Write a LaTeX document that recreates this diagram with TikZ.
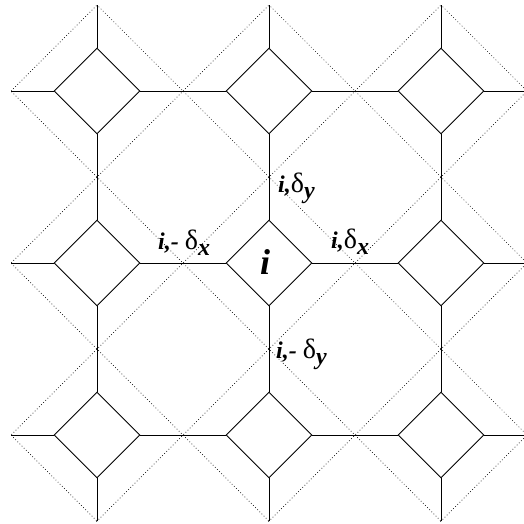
\documentclass[tikz,border=0pt]{standalone}
\usepackage{fontspec}
\setmainfont{Liberation Serif}
\usetikzlibrary{shapes.geometric}
\newcommand\dl{{\normalfont\fontsize{28}{28}\selectfont δ}}
\newcommand\subl[1]{\raisebox{-6pt}{#1}}
\begin{document}
\begin{tikzpicture}[x=1pt,y=-1pt,
  cell/.style={draw, diamond, minimum size=86pt, inner sep=0pt, line width=0.9pt},
  edge/.style={line width=0.9pt},
  lattice/.style={line width=0.7pt, dash pattern=on 0.7pt off 2.3pt},
  lab/.style={inner sep=0pt, anchor=base west, font=\fontsize{24}{24}\selectfont\bfseries\itshape}]
\useasboundingbox (0,0) rectangle (524,523);
\begin{scope}
  \clip (11,5) rectangle (524,521);
  \foreach \c in {102,274,446,618,790,962}
    \draw[lattice] ({\c-600},600) -- ({\c+600},-600);
  \foreach \c in {-424,-252,-80,92,264,436}
    \draw[lattice] ({\c-600},-600) -- ({\c+600},600);
\end{scope}
\foreach \i in {0,1,2}
  \foreach \j in {0,1,2}
    \node[cell] (d\i\j) at ({97+172*\i},{91+172*\j}) {};
\foreach \j in {0,1,2} {
  \coordinate (L\j) at (11,{91+172*\j});
  \coordinate (R\j) at (524,{91+172*\j});
  \draw[edge] (L\j) -- (d0\j.west);
  \draw[edge] (d0\j.east) -- (d1\j.west);
  \draw[edge] (d1\j.east) -- (d2\j.west);
  \draw[edge] (d2\j.east) -- (R\j);
}
\foreach \i in {0,1,2} {
  \coordinate (T\i) at ({97+172*\i},5);
  \coordinate (B\i) at ({97+172*\i},521);
  \draw[edge] (T\i) -- (d\i0.north);
  \draw[edge] (d\i0.south) -- (d\i1.north);
  \draw[edge] (d\i1.south) -- (d\i2.north);
  \draw[edge] (d\i2.south) -- (B\i);
}
\node[inner sep=0pt, anchor=base, font=\fontsize{36}{36}\selectfont\bfseries\itshape] (ci) at (265,274) {i};
\node[lab] (ly) at (278,192) {i,\dl\subl{y}};
\node[lab] (lx) at (331,248) {i,\dl\subl{x}};
\node[lab] (lmx) at (158,249) {i,- \dl\subl{x}};
\node[lab] (lmy) at (276,358) {i,- \dl\subl{y}};
\end{tikzpicture}
\end{document}
